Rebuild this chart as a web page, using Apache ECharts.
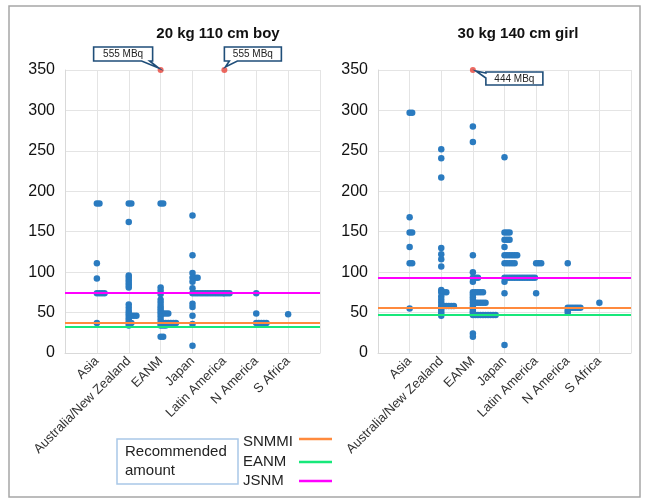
<!DOCTYPE html>
<html>
<head>
<meta charset="utf-8">
<script src="https://cdn.jsdelivr.net/npm/echarts@6/dist/echarts.min.js"></script>
<style>html,body{margin:0;padding:0;background:#fff}#c{width:650px;height:500px}</style>
</head>
<body>
<div id="c"></div>
<script>
// ---------- data ----------
const categories = ['Asia', 'Australia/New Zealand', 'EANM', 'Japan', 'Latin America', 'N America', 'S Africa'];
const yTicks = [0, 50, 100, 150, 200, 250, 300, 350];
const panelTitles = ['20 kg 110 cm boy', '30 kg 140 cm girl'];

// boy (20 kg, 110 cm): administered activity (MBq) per region
const boyAsia = [185, 185, 111, 92, 74, 74, 74, 74, 37];
const boyAusNZ = [185, 185, 162, 96, 93, 90, 87, 84, 81, 60, 56, 52, 49, 46, 46, 46, 46, 43, 40, 37, 37, 34];
const boyEANM = [185, 185, 81, 77, 73, 66, 62, 58, 55, 52, 49, 49, 49, 49, 45, 41, 37, 37, 37, 37, 37, 37, 37, 34, 34, 34, 20, 20];
const boyJapan = [170, 121, 99, 93, 93, 93, 88, 80, 74, 74, 74, 74, 74, 74, 74, 74, 74, 74, 74, 74, 74, 61, 57, 46, 36, 9];
const boyLatin = [74, 74, 74];
const boyNAmerica = [74, 49, 37, 37, 37, 37, 37];
const boySAfrica = [48];
const boyValues = [boyAsia, boyAusNZ, boyEANM, boyJapan, boyLatin, boyNAmerica, boySAfrica];
const boyOutlierCats = ['EANM', 'Latin America'];
const boyOutlierValues = [555, 555];

// girl (30 kg, 140 cm)
const girlAsia = [297, 297, 168, 149, 149, 131, 111, 111, 55];
const girlAusNZ = [252, 241, 217, 130, 122, 116, 107, 78, 75, 75, 75, 70, 66, 62, 58, 58, 58, 58, 58, 58, 55, 52, 49, 46];
const girlEANM = [280, 261, 121, 100, 93, 93, 93, 88, 75, 75, 75, 75, 75, 72, 69, 66, 62, 62, 62, 62, 62, 62, 58, 55, 52, 50, 47, 47, 47, 47, 47, 47, 47, 47, 47, 47, 24, 20];
const girlJapan = [242, 149, 149, 149, 140, 140, 140, 131, 121, 121, 121, 121, 121, 121, 111, 111, 111, 111, 111, 93, 93, 93, 93, 93, 93, 93, 93, 93, 93, 93, 93, 93, 88, 74, 10];
const girlLatin = [111, 111, 111, 74];
const girlNAmerica = [111, 56, 56, 56, 56, 56, 56, 53, 50];
const girlSAfrica = [62];
const girlValues = [girlAsia, girlAusNZ, girlEANM, girlJapan, girlLatin, girlNAmerica, girlSAfrica];
const girlOutlierCats = ['EANM'];
const girlOutlierValues = [444];

// recommended amounts
const guidelineNames = ['SNMMI', 'EANM', 'JSNM'];
const boyRecommended = [37, 32, 74];
const girlRecommended = [56, 47, 93];

// ---------- style ----------
const guideColors = ['#ff8a3d', '#17e87a', '#ff00ff'];
const dotColor = '#2a7bc0';
const DX = 0.08;             // horizontal shift for repeated values (dot plot)
const yMax = 350;
const calloutPlacement = [['upleft', 'upright'], ['right']];
const FONT = '"Liberation Sans", Arial, sans-serif';

function dotData(values) {
  const out = [];
  values.forEach((arr, i) => {
    const seen = {};
    arr.forEach(v => {
      const k = seen[v] || 0;
      seen[v] = k + 1;
      out.push([i + 1 + k * DX, v]);
    });
  });
  return out;
}
function outlierData(cats, vals) {
  return cats.map((c, i) => [categories.indexOf(c) + 1, Math.min(vals[i], yMax), vals[i]]);
}

const grids = [
  { left: 65, top: 70, width: 255, height: 283 },
  { left: 378, top: 70, width: 253, height: 283 }
];

function xAxis(gi) {
  return {
    type: 'value', gridIndex: gi, min: 0, max: 8, interval: 1,
    axisLine: { show: true, lineStyle: { color: '#d9d9d9' } },
    axisTick: { show: false },
    splitLine: { show: true, lineStyle: { color: '#e4e4e4' } },
    axisLabel: {
      rotate: 45, margin: 6, fontSize: 13, color: '#333', fontFamily: FONT,
      formatter: v => categories[v - 1] || ''
    }
  };
}
function yAxis(gi) {
  return {
    type: 'value', gridIndex: gi, min: 0, max: yMax, interval: 50,
    axisLine: { show: true, lineStyle: { color: '#d9d9d9' } },
    axisTick: { show: false },
    splitLine: { show: true, lineStyle: { color: '#e4e4e4' } },
    axisLabel: { fontSize: 16, color: '#111', margin: 10, fontFamily: FONT,
      formatter: v => (yTicks.indexOf(v) >= 0 ? String(v) : '') }
  };
}

function calloutSeries(gi, cats, vals) {
  return {
    type: 'custom', xAxisIndex: gi, yAxisIndex: gi, z: 10, clip: false,
    data: outlierData(cats, vals),
    renderItem: function (params, api) {
      const p = api.coord([api.value(0), api.value(1)]);
      const label = api.value(2) + ' MBq';
      const place = calloutPlacement[gi][params.dataIndex];
      let pts, x0, x1, y0, y1;
      if (place === 'upleft') {
        x1 = p[0] - 8; x0 = x1 - 59; y1 = p[1] - 9; y0 = y1 - 14;
        pts = [[x0, y0], [x1, y0], [x1, y1], [x1 - 3, y1], [p[0] - 2, p[1] - 2], [x1 - 11, y1], [x0, y1]];
      } else if (place === 'upright') {
        x0 = p[0]; x1 = x0 + 57; y1 = p[1] - 9; y0 = y1 - 14;
        pts = [[x0, y0], [x1, y0], [x1, y1], [x0 + 13, y1], [p[0] + 1, p[1] - 3], [x0 + 5, y1], [x0, y1]];
      } else {
        x0 = p[0] + 13; x1 = x0 + 57; y0 = p[1] + 2; y1 = y0 + 13;
        pts = [[x0, y0 + 1], [x0, y0], [x1, y0], [x1, y1], [x0, y1], [x0, y0 + 6], [p[0] + 3, p[1] + 1]];
      }
      return {
        type: 'group',
        children: [
          { type: 'polygon', shape: { points: pts },
            style: { fill: '#fff', stroke: '#1f4e79', lineWidth: 1.6 } },
          { type: 'text', style: { text: label, x: (x0 + x1) / 2, y: (y0 + y1) / 2 + 0.5,
            align: 'center', verticalAlign: 'middle', fontSize: 10, fill: '#222', fontFamily: FONT } }
        ]
      };
    }
  };
}

function guideSeries(gi, vals) {
  return {
    type: 'scatter', xAxisIndex: gi, yAxisIndex: gi, data: [], z: 5,
    markLine: {
      silent: true, symbol: ['none', 'none'], animation: false,
      label: { show: false },
      data: vals.map((v, i) => ({ yAxis: v, lineStyle: { color: guideColors[i], width: 2.2, type: 'solid' } }))
    }
  };
}

const series = [];
[[boyValues, boyRecommended, boyOutlierCats, boyOutlierValues],
 [girlValues, girlRecommended, girlOutlierCats, girlOutlierValues]].forEach((d, gi) => {
  series.push({
    type: 'scatter', xAxisIndex: gi, yAxisIndex: gi, z: 3,
    symbolSize: 6.5, itemStyle: { color: dotColor, opacity: 1 },
    data: dotData(d[0])
  });
  series.push(guideSeries(gi, d[1]));
  series.push({
    type: 'scatter', xAxisIndex: gi, yAxisIndex: gi, z: 6, clip: false,
    symbolSize: 6, itemStyle: { color: '#e8433a' },
    data: outlierData(d[2], d[3])
  });
  series.push(calloutSeries(gi, d[2], d[3]));
});

const legendGraphics = [
  { type: 'rect', shape: { x: 117, y: 439, width: 121, height: 45 },
    style: { fill: '#fff', stroke: '#a9c8e8', lineWidth: 1.5 } },
  { type: 'text', style: { text: 'Recommended', x: 125, y: 452, verticalAlign: 'middle', fontSize: 15, fill: '#222', fontFamily: FONT } },
  { type: 'text', style: { text: 'amount', x: 125, y: 471, verticalAlign: 'middle', fontSize: 15, fill: '#222', fontFamily: FONT } }
];
const legendY = [442, 462, 481];
guidelineNames.forEach((n, i) => {
  legendGraphics.push({ type: 'text', style: { text: n, x: 243, y: legendY[i], verticalAlign: 'middle', fontSize: 15, fill: '#222', fontFamily: FONT } });
  legendGraphics.push({ type: 'line', shape: { x1: 299, y1: legendY[i] - (i === 0 ? 3 : 0), x2: 332, y2: legendY[i] - (i === 0 ? 3 : 0) },
    style: { stroke: guideColors[i], lineWidth: 2.5 } });
});

const option = {
  animation: false,
  backgroundColor: '#fff',
  title: [
    { text: panelTitles[0], left: 213, top: 21, textAlign: 'center',
      textStyle: { fontSize: 15, fontWeight: 'bold', color: '#111', fontFamily: FONT } },
    { text: panelTitles[1], left: 513, top: 21, textAlign: 'center',
      textStyle: { fontSize: 15, fontWeight: 'bold', color: '#111', fontFamily: FONT } }
  ],
  grid: grids,
  xAxis: [xAxis(0), xAxis(1)],
  yAxis: [yAxis(0), yAxis(1)],
  series: series,
  graphic: [
    { type: 'rect', shape: { x: 9, y: 6, width: 631, height: 491 }, z: -1,
      style: { fill: 'none', stroke: '#a6a6a6', lineWidth: 1.5 } }
  ].concat(legendGraphics)
};

const chart = echarts.init(document.getElementById('c'), null, { renderer: 'canvas' });
chart.setOption(option);
</script>
</body>
</html>
